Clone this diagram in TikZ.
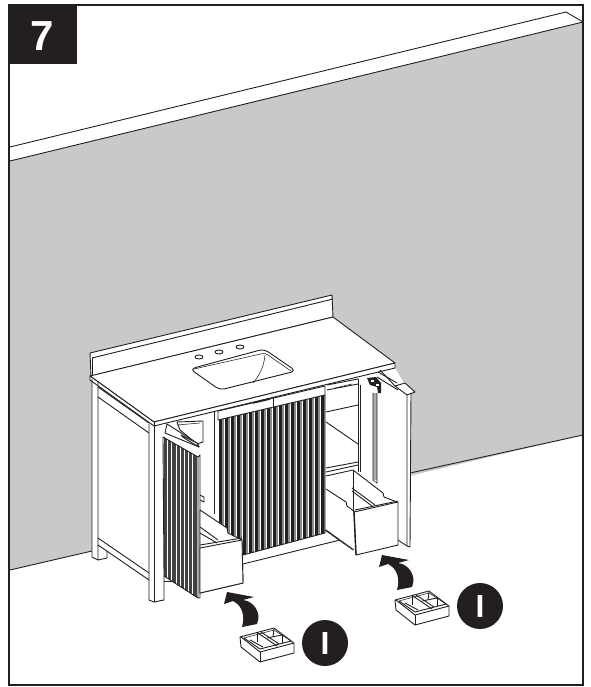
\documentclass[tikz,border=0pt]{standalone}
\usepackage{fontspec}
\setmainfont{Liberation Sans}
\usepackage{xcolor}
\definecolor{inkblack}{HTML}{231F20}
\definecolor{wallgray}{HTML}{C8C9CB}
\definecolor{fluteshade}{HTML}{8A8A8C}

\begin{document}
\begin{tikzpicture}[x=1pt, y=-1pt,
    linestyle/.style={draw=inkblack, line width=0.9pt, line join=round},
    thinstyle/.style={draw=inkblack, line width=0.55pt},
    panelstyle/.style={linestyle, fill=white},
    arrowstyle/.style={fill=inkblack, draw=none},
    badgestyle/.style={circle, fill=inkblack, minimum size=46pt, inner sep=0pt, text=white, font=\fontsize{32}{32}\selectfont\bfseries}]
    \useasboundingbox (0,0) rectangle (590,687);

    % wall and moulding
    \fill[wallgray] (10,161) -- (583,22) -- (583,435) -- (10,570) -- cycle;
    \draw[linestyle] (10,147) -- (566,12) -- (583,22);
    \draw[linestyle] (10,161) -- (583,22);
    \draw[linestyle] (10,570) -- (92,551);
    \draw[linestyle] (410,473) -- (583,435);

    % body of the vanity
    \fill[white] (92,380) -- (154,426) -- (395,368) -- (411,395) -- (411,547) -- (92,557) -- cycle;
    \draw[panelstyle] (90,353) -- (332,295) -- (333,317) -- (91,376) -- cycle;
    \draw[linestyle] (92,358) -- (333,299);
    \draw[linestyle] (92,358) -- (92,376);
    \draw[panelstyle] (90,376) -- (333,317) -- (395,363) -- (154,422) -- cycle;
    \draw[panelstyle] (90,376) -- (154,422) -- (395,363) -- (395,368) -- (154,426) -- (90,380) -- cycle;
    \draw[linestyle] (154,422) -- (154,426);

    % sink and tap holes
    \draw[linestyle, rounded corners=5pt] (190,369) -- (220,390) -- (296,371) -- (264,349) -- cycle;
    \draw[thinstyle, rounded corners=3pt] (194,369) -- (265,353) -- (291,371);
    \draw[thinstyle] (265,355) .. controls (264,367) and (259,376) .. (253,383);
    \foreach \hx/\hy in {199/357, 219/352, 240/347} {
        \draw[linestyle] (\hx,\hy) ellipse (4pt and 2pt);
    }

    % left side and legs
    \draw[linestyle] (92,379) -- (92,557) -- (98,560) -- (98,381);
    \draw[linestyle] (98,560) -- (107,558) -- (107,551);
    \draw[linestyle] (98,387) -- (149,423);
    \draw[linestyle] (98,397) -- (149,433);
    \draw[linestyle] (98,538) -- (149,573);
    \draw[linestyle] (98,545) -- (149,580);
    \draw[linestyle] (149,424) -- (149,600) -- (154,602) -- (164,600) -- (164,426);
    \draw[linestyle] (154,426) -- (154,602);
    \draw[linestyle] (164,581) -- (172,581);

    % centre door with flutes
    \draw[linestyle] (214,412) -- (214,514);
    \draw[linestyle] (218,411) -- (218,420);
    \begin{scope}
        \clip (218,420) -- (325,395) -- (325,533) -- (243,555) -- (218,562) -- cycle;
        \foreach \n in {0,...,17} {
            \fill[inkblack] (219+6*\n,380) rectangle +(3.1,200);
            \fill[fluteshade] (222.1+6*\n,380) rectangle +(1.4,200);
        }
    \end{scope}
    \draw[panelstyle] (218,411) -- (325,386) -- (325,395) -- (218,420) -- cycle;
    \draw[linestyle] (273,398) -- (273,407);
    \draw[line width=1.5pt, inkblack] (253,403) -- (270,399);
    \draw[linestyle] (325,395) -- (325,533) -- (243,555);
    \draw[linestyle] (243,564) -- (340,540);
    \draw[linestyle] (325,530) -- (353,550);

    % right opening and shelves
    \draw[linestyle] (327,385) -- (358,379);
    \draw[linestyle] (327,390) -- (358,384);
    \draw[thinstyle] (335,388) -- (352,384);
    \draw[linestyle] (326,412) -- (358,405);
    \draw[linestyle] (326,422) -- (358,444);
    \draw[linestyle] (326,468) -- (358,462);
    \draw[linestyle] (326,472) -- (358,465);
    \draw[linestyle] (358,379) -- (358,472);
    \draw[linestyle] (360,385) -- (360,472);

    % right door
    \draw[linestyle] (378,372) -- (397,383);
    \draw[linestyle] (377,377) -- (398,390);
    \draw[linestyle] (380,370) -- (395,386);
    \draw[panelstyle] (395,386) -- (405,383) -- (415,392) -- (407,395) -- cycle;
    \draw[linestyle] (407,395) -- (407,546) -- (410,547) -- (411,393);
    \draw[linestyle] (398,540) -- (407,546);
    \fill[fluteshade!70] (373,393) rectangle (377,480);
    \draw[thinstyle] (373,393) -- (373,480) -- (377,483) -- (377,393);
    \fill[inkblack] (367,378) -- (376,377) -- (381,383) -- (381,393) -- (378,393) -- (377,387) -- (370,385) -- cycle;
    \fill[white] (371,380) rectangle (374,382);
    \fill[white] (376,384) rectangle (379,386);

    % right drawer
    \fill[white] (326,476) -- (353,470) -- (383,493) -- (384,497) -- (397,502) -- (398,545) -- (356,555) -- (353,550) -- (326,530) -- cycle;
    \draw[linestyle] (326,476) -- (353,470) -- (383,493) -- (384,497) -- (397,502);
    \draw[linestyle] (326,489) -- (346,502) -- (347,506) -- (355,512);
    \draw[linestyle] (353,470) -- (353,512);
    \draw[linestyle] (352,488) -- (375,505);
    \draw[linestyle] (352,491) -- (372,506);
    \draw[panelstyle] (354,512) -- (398,502) -- (398,545) -- (356,555) -- cycle;
    \draw[linestyle] (355,510) -- (398,501);
    \draw[line width=1.4pt, inkblack] (354,512) -- (356,555);
    \draw[linestyle] (326,530) -- (354,550);

    % left door with flutes
    \fill[white] (163,424) -- (200,424) -- (200,598) -- (163,576) -- cycle;
    \begin{scope}
        \clip (163,437) -- (198,457) -- (198,598) -- (164,576) -- cycle;
        \foreach \n in {0,...,8} {
            \fill[inkblack!85] (164+4.2*\n,430) rectangle +(3.1,180);
        }
    \end{scope}
    \draw[linestyle] (163,437) -- (198,457) -- (198,598) -- (164,576) -- cycle;
    \draw[linestyle] (198,457) -- (200,455) -- (200,598) -- (198,598);
    \draw[panelstyle] (177,422) -- (203,421) -- (203,442) -- (197,444) -- (180,430) -- cycle;
    \draw[panelstyle] (167,424) -- (197,443) -- (199,447) -- (165,433) -- cycle;
    \draw[panelstyle] (181,435) -- (197,443) -- (199,447) -- (184,438) -- cycle;
    \draw[thinstyle] (177,425) -- (200,423);
    \draw[linestyle] (200,495) -- (204,497) -- (204,502) -- (200,500);

    % left drawer
    \draw[panelstyle] (200,510) -- (227,528) -- (228,533) -- (242,540) -- (243,583) -- (200,593) -- cycle;
    \draw[linestyle] (200,527) -- (218,540);
    \draw[linestyle] (200,533) -- (217,543);
    \draw[panelstyle] (200,548) -- (242,540) -- (243,583) -- (200,593) -- cycle;
    \draw[linestyle] (200,545) -- (242,538);

    % trays, arrows and badges
    \foreach \sx/\sy/\nm in {0/0/a, 155/-37/b} {
        \begin{scope}[shift={(\sx,\sy)}]
            \draw[panelstyle] (240,637) -- (274,628) -- (294,643) -- (294,653) -- (260,662) -- (241,647) -- cycle;
            \draw[linestyle] (241,637) -- (260,652) -- (294,643);
            \draw[linestyle] (260,652) -- (260,662);
            \draw[linestyle] (244,638) -- (260,649) -- (291,641);
            \draw[thinstyle] (244,638) -- (274,630) -- (291,641);
            \draw[linestyle] (258,633) -- (277,646);
            \draw[linestyle] (261,632) -- (279,644);
            \draw[linestyle] (267,638) -- (282,635);
            \draw[linestyle] (274,629) -- (273,637);
            \draw[linestyle] (282,635) -- (282,643);
            \draw[linestyle] (257,633) -- (257,642);
            \draw[linestyle] (250,640) -- (263,647);
            \fill[arrowstyle] (242,627) .. controls (245,617) and (243,606) .. (233,601) -- (224,604) -- (227,592) -- (254,597) -- (243,600) .. controls (253,601) and (262,612) .. (257,624) -- cycle;
            \node[badgestyle] (badge\nm) at (325,643) {I};
        \end{scope}
    }

    % outer frame and step number
    \draw[inkblack, line width=2.6pt] (9,5) rectangle (583,685);
    \fill[inkblack] (8,4) rectangle (77,64);
    \node[text=white, font=\fontsize{42}{42}\selectfont\bfseries] (stepnum) at (42,36) {7};
\end{tikzpicture}
\end{document}
